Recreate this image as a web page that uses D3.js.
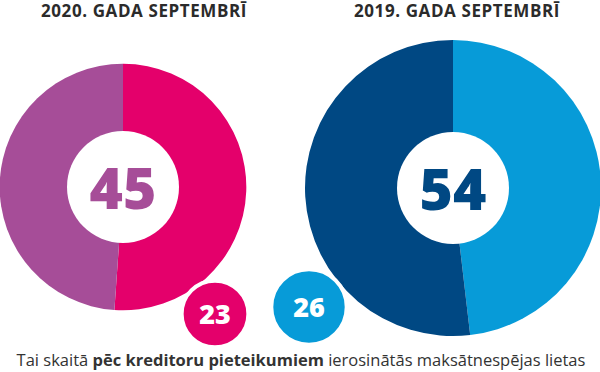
<!DOCTYPE html>
<html>
<head>
<meta charset="utf-8">
<script src="https://cdn.jsdelivr.net/npm/d3@7"></script>
<style>
    body { margin: 0; background: #fff; }
    svg { display: block; font-family: "Open Sans", sans-serif; }
</style>
</head>
<body>
<svg id="chart" width="600" height="372"></svg>
<script>
// Maksātnespējas lietas: kopā un pēc kreditoru pieteikumiem
const periods = ["2020. GADA SEPTEMBRĪ", "2019. GADA SEPTEMBRĪ"];
const totals = [45, 54];
const creditorCases = [23, 26];
const otherCases = [22, 28];

const creditorColors = ["#e4006b", "#079bd8"];
const otherColors = ["#a64d98", "#004883"];

const width = 600, height = 372;
const svg = d3.select("#chart");

// donut centres and the small bubble centres
const centers = [{x: 123, y: 187}, {x: 453, y: 188}];
const bubbles = [{x: 215, y: 314}, {x: 309, y: 307}];
const titleX = [144, 457];

let radius = d3.scaleLinear().domain([0, 54]).range([0, 148]);
let bubbleRadius = d3.scaleLinear().domain([0, 26]).range([0, 37.7]);

let pie = d3.pie().sort(null).value(d => d);

periods.forEach((title, i) => {
    let g = svg.append("g")
        .attr("transform", `translate(${centers[i].x},${centers[i].y})`);

    let arc = d3.arc().innerRadius(0).outerRadius(radius(totals[i]));
    let colors = [creditorColors[i], otherColors[i]];

    g.selectAll("path")
        .data(pie([creditorCases[i], otherCases[i]]))
        .enter()
        .append("path")
        .attr("d", arc)
        .attr("fill", (d, j) => colors[j]);

    g.append("circle")
        .attr("r", 56)
        .attr("fill", "#fff");

    g.append("text")
        .attr("text-anchor", "middle")
        .attr("y", 22)
        .attr("font-size", 57)
        .attr("font-weight", 800)
        .attr("fill", otherColors[i])
        .text(totals[i]);

    svg.append("text")
        .attr("x", titleX[i])
        .attr("y", 17)
        .attr("text-anchor", "middle")
        .attr("font-size", 17)
        .attr("letter-spacing", 0.6)
        .attr("font-weight", 700)
        .attr("fill", "#2b2b2b")
        .text(title);
});

// bubbles with the creditor count
let bubble = svg.selectAll(".bubble")
    .data(creditorCases)
    .enter()
    .append("g")
    .attr("class", "bubble")
    .attr("transform", (d, i) => `translate(${bubbles[i].x},${bubbles[i].y})`);

bubble.append("circle")
    .attr("r", d => bubbleRadius(d))
    .attr("fill", (d, i) => creditorColors[i])
    .attr("stroke", "#fff")
    .attr("stroke-width", 4);

bubble.append("text")
    .attr("text-anchor", "middle")
    .attr("y", 10)
    .attr("font-size", 27)
    .attr("font-weight", 800)
    .attr("fill", "#fff")
    .text(d => d);

// footnote
let note = svg.append("text")
    .attr("x", width / 2 + 1)
    .attr("y", 366)
    .attr("text-anchor", "middle")
    .attr("font-size", 16.5)
    .attr("fill", "#333");
note.append("tspan").text("Tai skaitā ");
note.append("tspan").attr("font-weight", 700).text("pēc kreditoru pieteikumiem");
note.append("tspan").text(" ierosinātās maksātnespējas lietas");
</script>
</body>
</html>
